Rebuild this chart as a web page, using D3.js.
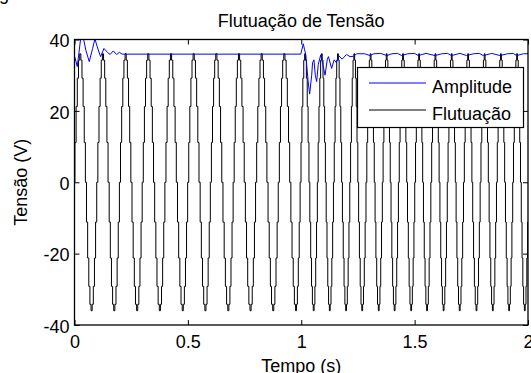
<!DOCTYPE html>
<html>
<head>
<meta charset="utf-8">
<script src="https://cdn.jsdelivr.net/npm/d3@7"></script>
<style>
  body { margin: 0; background: #fff; }
  svg { display: block; }
  text { font-family: "Liberation Sans", Arial, Helvetica, sans-serif; fill: #000; }
</style>
</head>
<body>
<svg id="grafica"></svg>
<script>
// Flutuação de Tensão - amplitude e sinal

const svg_w = 531;
const svg_h = 373;
const margin = {l:74.5, r:3, t:39.5, b:48};
const viz_w = svg_w - margin.l - margin.r;
const viz_h = svg_h - margin.t - margin.b;

// eixos
const xTicks = [0, 0.5, 1, 1.5, 2];
const xLabels = ["0", "0.5", "1", "1.5", "2"];
const yTicks = [-40, -20, 0, 20, 40];
const yLabels = ["-40", "-20", "0", "20", "40"];

// sinal (Flutuação): instantes dos picos e vales
const peakTimes = [0.023, 0.123, 0.223, 0.323, 0.423, 0.523, 0.623, 0.723, 0.823, 0.923,
  1.015, 1.089, 1.160, 1.232, 1.304, 1.375, 1.447, 1.518, 1.590, 1.662, 1.734, 1.807, 1.879, 1.950, 2.020];
const troughTimes = [-0.030, 0.073, 0.173, 0.274, 0.374, 0.475, 0.575, 0.676, 0.774, 0.874, 0.975,
  1.053, 1.124, 1.196, 1.267, 1.340, 1.410, 1.483, 1.553, 1.626, 1.697, 1.771, 1.843, 1.915, 1.984];
const peakValue = 36;
// forma de meio ciclo (de pico a vale), fração da amplitude, em degraus
const halfWave = [1, 0.95, 0.81, 0.59, 0.31, 0, -0.31, -0.59, -0.81, -0.95, -1];

// Amplitude (linha azul)
const ampTime = [0, 0.002, 0.012, 0.020, 0.027, 0.033, 0.039, 0.050, 0.065, 0.080, 0.090, 0.100,
  0.115, 0.130, 0.145, 0.157, 0.171, 0.186, 0.198, 0.210, 0.223, 0.500, 0.998,
  1.009, 1.014, 1.020, 1.030, 1.037, 1.046, 1.050, 1.056, 1.062, 1.068, 1.075, 1.086, 1.095,
  1.105, 1.115, 1.120, 1.134, 1.145, 1.155, 1.165, 1.180, 1.200, 1.215, 1.230, 1.245,
  1.280, 1.303, 1.320, 1.350, 1.377, 1.400, 1.425, 1.443, 1.470, 1.500, 1.516, 1.550, 1.590,
  1.620, 1.645, 1.663, 1.700, 1.729, 1.760, 1.785, 1.803, 1.840, 1.877, 1.910, 1.935, 1.950, 1.980, 2.000];
const ampValue = [35.2, 35.0, 32.4, 36.5, 40.2, 41.5, 40.5, 37.0, 33.8, 37.5, 40.2, 38.0,
  35.2, 37.5, 36.4, 35.8, 36.8, 35.8, 36.4, 35.9, 35.9, 35.9, 35.9,
  38.8, 37.3, 35.8, 28.5, 24.7, 30.0, 33.5, 34.3, 30.0, 28.2, 33.0, 35.7, 33.0,
  30.0, 34.5, 35.2, 31.9, 34.3, 33.5, 35.5, 34.5, 35.8, 35.2, 35.3, 36.0,
  36.0, 35.5, 36.0, 36.1, 35.5, 36.0, 36.1, 35.5, 36.0, 36.1, 35.5, 36.1, 35.5,
  36.0, 36.1, 35.5, 36.1, 35.5, 36.0, 36.1, 35.5, 36.1, 35.5, 36.0, 36.1, 35.5, 36.0, 36.0];

// monta a sequência de extremos e o traço do sinal
let extremos = peakTimes.map(t => ({t: t, up: true}))
  .concat(troughTimes.map(t => ({t: t, up: false})))
  .sort((a, b) => a.t - b.t);
let sinal = [];
for (let i = 0; i < extremos.length - 1; i++) {
  let a = extremos[i], b = extremos[i + 1];
  let sgn = a.up ? 1 : -1;
  halfWave.forEach((f, k) => {
    if (k == halfWave.length - 1 && i < extremos.length - 2) return;
    sinal.push({t: a.t + (b.t - a.t) * k / (halfWave.length - 1), v: sgn * f * peakValue});
  });
}
let amplitude = ampTime.map((t, i) => ({t: t, v: ampValue[i]}));

let svg = d3.select("#grafica")
  .attr("width", svg_w)
  .attr("height", svg_h);

let x_scale = d3.scaleLinear().domain([0, 2]).range([0, viz_w]);
let y_scale = d3.scaleLinear().domain([-40, 40]).range([viz_h, 0]);

let g = svg.append("g").attr("transform", `translate(${margin.l},${margin.t})`);

svg.append("defs").append("clipPath").attr("id", "clip")
  .append("rect").attr("width", viz_w).attr("height", viz_h);

let plot = g.append("g").attr("clip-path", "url(#clip)");

let line = d3.line().x(d => x_scale(d.t)).y(d => y_scale(d.v));
let stairs = d3.line().x(d => x_scale(d.t)).y(d => y_scale(d.v)).curve(d3.curveStepAfter);

plot.append("path")
  .datum(sinal)
  .attr("d", stairs)
  .attr("fill", "none")
  .attr("stroke", "#000")
  .attr("stroke-width", 1);

plot.append("path")
  .datum(amplitude)
  .attr("d", line)
  .attr("fill", "none")
  .attr("stroke", "#0000ff")
  .attr("stroke-width", 1);

// eixos com marcas para dentro
g.append("g")
  .attr("transform", `translate(0,${viz_h})`)
  .call(d3.axisBottom(x_scale).tickValues(xTicks).tickSize(-5).tickPadding(10)
    .tickFormat((d, i) => xLabels[i]));
g.append("g")
  .call(d3.axisTop(x_scale).tickValues(xTicks).tickSize(-5).tickFormat(""));
let yAxis = g.append("g")
  .call(d3.axisLeft(y_scale).tickValues(yTicks).tickSize(-5).tickPadding(5)
    .tickFormat((d, i) => yLabels[i]));
g.append("g")
  .attr("transform", `translate(${viz_w},0)`)
  .call(d3.axisRight(y_scale).tickValues(yTicks).tickSize(-5).tickFormat(""));

g.selectAll(".domain").remove();
g.selectAll(".tick line").attr("stroke", "#000");
g.selectAll(".tick text").style("font-size", "18px").attr("fill", "#000");
yAxis.selectAll(".tick text").attr("dy", "0.4em");

g.append("rect")
  .attr("width", viz_w)
  .attr("height", viz_h)
  .attr("fill", "none")
  .attr("stroke", "#000")
  .attr("stroke-width", 1.3);

// título e rótulos
svg.append("text")
  .attr("x", margin.l + viz_w / 2)
  .attr("y", 27)
  .attr("text-anchor", "middle")
  .style("font-size", "18px")
  .text("Flutuação de Tensão");

svg.append("text")
  .attr("x", margin.l + viz_w / 2)
  .attr("y", 371.5)
  .attr("text-anchor", "middle")
  .style("font-size", "18px")
  .text("Tempo (s)");

svg.append("text")
  .attr("transform", `translate(27,${margin.t + viz_h / 2}) rotate(-90)`)
  .attr("text-anchor", "middle")
  .style("font-size", "18px")
  .text("Tensão (V)");

// resto do texto da página acima da figura
svg.append("text")
  .attr("x", -1)
  .attr("y", 0)
  .style("font-size", "18px")
  .text("g");

// legenda
const legendItems = ["Amplitude", "Flutuação"];
const legendColors = ["#0000ff", "#000"];
const legendRows = [83, 110];
let legend = svg.append("g");
legend.append("rect")
  .attr("x", 357.5)
  .attr("y", 67.5)
  .attr("width", 166)
  .attr("height", 60)
  .attr("fill", "#fff")
  .attr("stroke", "#000")
  .attr("stroke-width", 1.2);
legendItems.forEach((name, i) => {
  legend.append("line")
    .attr("x1", 369).attr("x2", 426)
    .attr("y1", legendRows[i]).attr("y2", legendRows[i])
    .attr("stroke", legendColors[i])
    .attr("stroke-width", 1);
  legend.append("text")
    .attr("x", 432)
    .attr("y", legendRows[i] + 9.5)
    .style("font-size", "18px")
    .text(name);
});
</script>
</body>
</html>
